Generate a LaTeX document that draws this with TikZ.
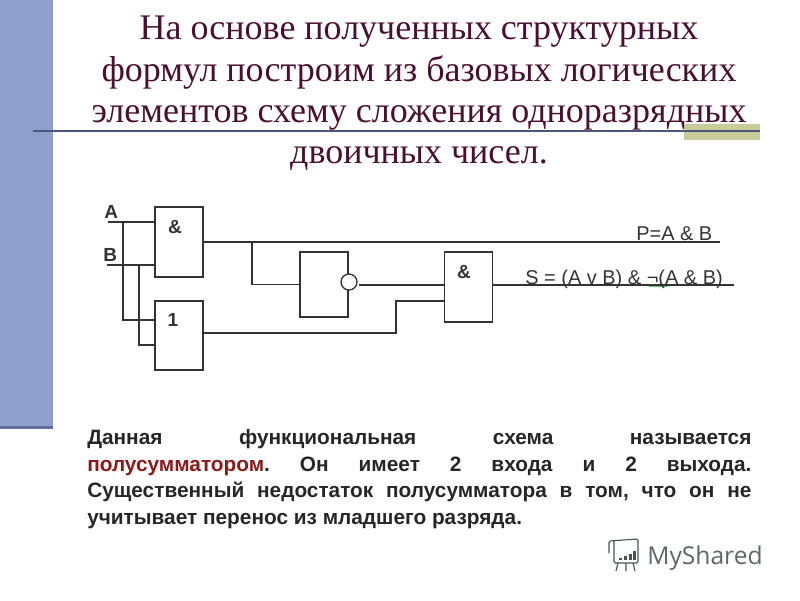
\documentclass[tikz,border=0pt]{standalone}
\usepackage{fontspec}
\setmainfont{Liberation Serif}
\setsansfont{Liberation Sans}
\newfontfamily\logofont{Open Sans}
\usetikzlibrary{decorations.pathmorphing}
\definecolor{bandblue}{HTML}{8F9FCB}
\definecolor{banddark}{HTML}{5F6D9C}
\definecolor{barolive}{HTML}{C8CC9A}
\definecolor{titlered}{HTML}{4A1030}
\definecolor{wordred}{HTML}{8B1A1A}
\definecolor{wiregrey}{HTML}{333333}
\definecolor{logogrey}{HTML}{5F6666}
\begin{document}
\begin{tikzpicture}
[x=0.025cm,y=-0.025cm,
wire/.style={color=wiregrey,line width=0.95pt},
gate/.style={draw=wiregrey,line width=0.95pt,minimum width=1.2cm,inner sep=0pt},
gatetext/.style={font=\sffamily\bfseries\fontsize{13.5}{15}\selectfont,text=wiregrey,inner sep=0pt},
formula/.style={font=\sffamily\fontsize{14.2}{16}\selectfont,text=wiregrey,inner sep=0pt,anchor=base west},
]
\useasboundingbox (0,0) rectangle (800,600);

% background
\fill[bandblue] (0,0) rectangle (53,428);
\fill[banddark] (0,426) rectangle (53,429);
\fill[barolive] (684,124) rectangle (760,140);
\draw[color=banddark!80!black,line width=0.8pt] (33,131) -- (760,131);

% title
\node[align=center,anchor=north,inner sep=0pt,text=titlered,font=\fontsize{25.6}{29.3}\selectfont] (title) at (419,16)
{На основе полученных структурных\\формул построим из базовых логических\\элементов схему сложения одноразрядных\\двоичных чисел.};

% gates
\node[gate,minimum height=1.75cm] (and1) at (179,242) {};
\node[gate,minimum height=1.725cm] (or1) at (179,335.5) {};
\node[gate,minimum height=1.625cm] (not1) at (324,284.5) {};
\node[gate,minimum height=1.75cm] (and2) at (468.5,287) {};
\node[draw=wiregrey,line width=0.95pt,fill=white,circle,inner sep=0pt,minimum size=0.4cm] (inv) at (349,282) {};
\node[gatetext] (and1text) at (175,227) {\&};
\node[gatetext] (or1text) at (173,320) {1};
\node[gatetext] (and2text) at (464,272) {\&};

% ports
\coordinate (a) at (108,222);
\coordinate (b) at (107,265);
\coordinate (aj) at (123,222);
\coordinate (bj) at (139,265);
\coordinate (or1a) at (155,320);
\coordinate (or1b) at (155,345);
\coordinate (branch) at (252,242);
\coordinate (invout) at (359,285);
\coordinate (and2a) at (444,285);
\coordinate (and2b) at (444,301);
\coordinate (pout) at (720,242);
\coordinate (sout) at (734,285);
\coordinate (bend) at (396,333);

% wires
\draw[wire] (a) -- (a -| and1.west);
\draw[wire] (b) -- (b -| and1.west);
\draw[wire] (aj) |- (or1a);
\draw[wire] (bj) |- (or1b);
\draw[wire] (and1.east) -- (pout);
\draw[wire] (branch) |- (not1.west);
\draw[wire] (invout) -- (and2a);
\draw[wire] (or1.east |- bend) -- (bend) |- (and2b);
\draw[wire] (and2.east |- sout) -- (sout);

% labels
\node[gatetext,anchor=base west] (alabel) at (104,218) {A};
\node[gatetext,anchor=base west] (blabel) at (103,261) {B};
\node[formula] (plabel) at (636,240) {P=A \& B};
\node[formula] (slabel) at (525,284) {S = (A v B) \& ¬(A \& B)};
\coordinate (sqa) at (649,286.5);
\coordinate (sqb) at (668,286.5);
\draw[color=green!50!black,line width=0.3pt,decorate,decoration={snake,amplitude=0.35pt,segment length=2.5pt}] (sqa) -- (sqb);

% text
\node[align=justify,text width=16.6cm,anchor=north west,inner sep=0pt,font=\sffamily\bfseries\fontsize{14.8}{19}\selectfont\frenchspacing,text=black!85] (body) at (87,429)
{Данная функциональная схема называется\linebreak \textcolor{wordred}{полусумматором}. Он имеет 2 входа и 2 выхода.\linebreak Существенный недостаток полусумматора в том, что он не\linebreak учитывает перенос из младшего разряда.};

% logo
\node[anchor=base west,inner sep=0pt,text=logogrey,font=\logofont\fontsize{17.5}{20}\selectfont] (logo) at (647,564) {MyShared};
\draw[color=logogrey!80!black,line width=0.8pt,rounded corners=1pt] (609,553) -- (609,541) -- (638,539) -- (638,563) -- (614,563) -- (614,541);
\draw[color=logogrey!80!black,line width=0.8pt] (618,563) -- (616,571) (626,563) -- (626,571) (633,563) -- (635,571);
\foreach \x/\h in {619/2,624/4,629/6,633/9}
{
\fill[logogrey!80!black] (\x,560) rectangle ++(3,-\h);
}
\end{tikzpicture}
\end{document}
